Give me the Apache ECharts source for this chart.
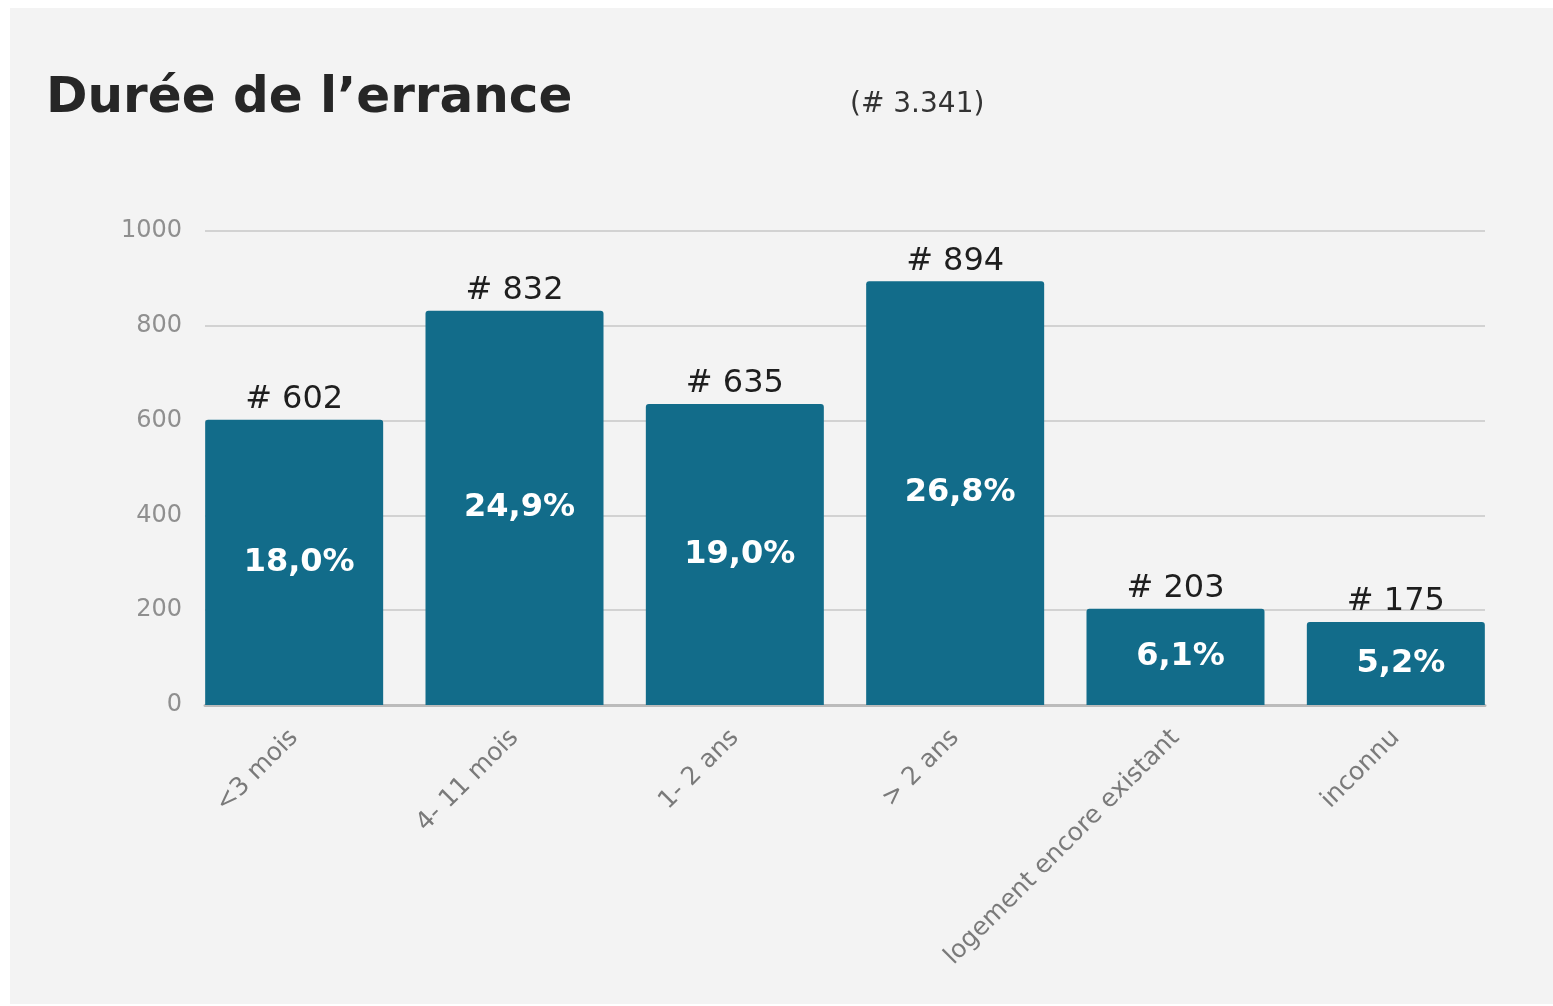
<!DOCTYPE html>
<html>
<head>
<meta charset="utf-8">
<script src="https://cdn.jsdelivr.net/npm/echarts@6/dist/echarts.min.js"></script>
<style>
  html, body { margin: 0; padding: 0; background: #ffffff; }
  #panel { position: absolute; left: 10px; top: 8px; width: 1543px; height: 996px; background: #f3f3f3; }
  #chart { position: absolute; left: 0; top: 0; width: 1553px; height: 1006px; }
</style>
</head>
<body>
<div id="panel"></div>
<div id="chart"></div>
<script>
// Durée de l'errance — nombre de personnes par durée
const categories = ['<3 mois', '4- 11 mois', '1- 2 ans', '> 2 ans', 'logement encore existant', 'inconnu'];
const counts = [602, 832, 635, 894, 203, 175];
const shares = ['18,0%', '24,9%', '19,0%', '26,8%', '6,1%', '5,2%'];
const total = '3.341';
const yTicks = [0, 200, 400, 600, 800, 1000];

const barColor = '#126c8a';
const font = 'DejaVu Sans';

const chart = echarts.init(document.getElementById('chart'), null, { renderer: 'canvas' });

chart.setOption({
  backgroundColor: 'transparent',
  animation: false,
  textStyle: { fontFamily: font },
  title: [
    {
      text: 'Durée de l\u2019errance',
      left: 41, top: 69,
      textStyle: { fontFamily: font, fontWeight: 'bold', fontSize: 50, color: '#262626' }
    },
    {
      text: '(# ' + total + ')',
      left: 845, top: 86,
      textStyle: { fontFamily: font, fontWeight: 'normal', fontSize: 28, color: '#333333' }
    }
  ],
  grid: [
    // bars
    { left: 184, right: 47, top: 231, bottom: 301 },
    // gridlines, value labels and baseline
    { left: 205, right: 68, top: 231, bottom: 301 }
  ],
  xAxis: [
    {
      type: 'category', gridIndex: 0, data: categories,
      axisLine: { show: false }, axisTick: { show: false },
      axisLabel: { rotate: 45, margin: 29, fontSize: 25, color: '#7a7a7a', fontFamily: font, interval: 0 }
    },
    {
      type: 'value', gridIndex: 1, min: 0, max: 1,
      axisLine: { show: true, lineStyle: { color: '#bbbbbb', width: 3 } },
      axisTick: { show: false }, axisLabel: { show: false }, splitLine: { show: false }
    }
  ],
  yAxis: [
    { type: 'value', gridIndex: 0, min: yTicks[0], max: yTicks[yTicks.length - 1], show: false },
    {
      type: 'value', gridIndex: 1, min: yTicks[0], max: yTicks[yTicks.length - 1], interval: yTicks[1] - yTicks[0],
      axisLine: { show: false }, axisTick: { show: false },
      axisLabel: { margin: 23, fontSize: 24, color: '#8f8f8f', fontFamily: font, formatter: v => String(v) },
      splitLine: { show: true, lineStyle: { color: '#d2d2d2', width: 2 } }
    }
  ],
  series: [
    {
      type: 'bar', xAxisIndex: 0, yAxisIndex: 0,
      data: counts,
      barWidth: 178,
      itemStyle: { color: barColor, borderRadius: [3, 3, 0, 0] },
      label: {
        show: true, position: 'top', distance: 4,
        fontFamily: font, fontSize: 32, color: '#1e1e1e',
        formatter: p => '# ' + p.value
      },
      z: 3
    },
    {
      // share labels inside the bars, on the same values
      type: 'bar', xAxisIndex: 0, yAxisIndex: 0,
      data: counts,
      barWidth: 178, barGap: '-100%',
      itemStyle: { color: 'transparent' },
      label: {
        show: true, position: 'inside', offset: [5, 0],
        fontFamily: font, fontWeight: 'bold', fontSize: 32, color: '#ffffff',
        formatter: p => shares[p.dataIndex]
      },
      z: 4
    }
  ]
});
</script>
</body>
</html>
